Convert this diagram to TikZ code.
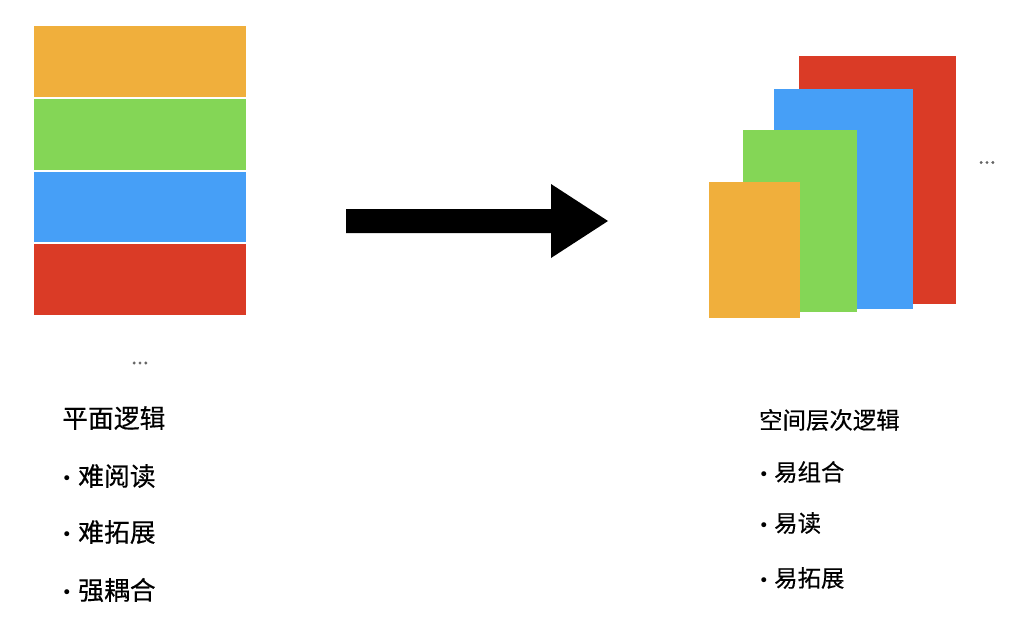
\documentclass[tikz,border=0pt]{standalone}
\usepackage{fontspec}
\setmainfont{Noto Sans CJK SC}[FakeBold=0.35,AutoFakeBold=0.35]
\newfontfamily\symfont{DejaVu Sans}
\definecolor{cOrange}{RGB}{240,175,60}
\definecolor{cGreen}{RGB}{132,214,86}
\definecolor{cBlue}{RGB}{70,159,247}
\definecolor{cRed}{RGB}{218,59,38}
\definecolor{cDots}{RGB}{100,100,100}
\begin{document}
\begin{tikzpicture}[x=1pt,y=-1pt,
  ltxt/.style={anchor=west, inner sep=0pt, font=\bfseries\fontsize{25.8}{30}\selectfont},
  rtxt/.style={anchor=west, inner sep=0pt, font=\bfseries\fontsize{23.4}{28}\selectfont},
  bul/.style={inner sep=0pt, font=\symfont\fontsize{17}{19}\selectfont},
  dots/.style={inner sep=0pt, text=cDots, font=\fontsize{21}{24}\selectfont}]
\useasboundingbox[fill=white] (0,0) rectangle (1022,624);
% left stack
\fill[cOrange] (34,26) rectangle (246,97);
\fill[cGreen]  (34,99) rectangle (246,170);
\fill[cBlue]   (34,172) rectangle (246,242);
\fill[cRed]    (34,244) rectangle (246,315);
\node[dots] (ldots) at (140,363) {...};
% arrow
\fill[black] (346,209) -- (551,209) -- (551,184) -- (608,221) -- (551,258) -- (551,233) -- (346,233) -- cycle;
% right stack
\fill[cRed]    (799,56) rectangle (956,304);
\fill[cBlue]   (774,89) rectangle (913,309);
\fill[cGreen]  (743,130) rectangle (857,312);
\fill[cOrange] (709,182) rectangle (800,318);
\node[dots] (rdots) at (987,162.5) {...};
% left text
\node[ltxt] (lt) at (62,418) {平面逻辑};
\node[bul] (lb1) at (67,480) {•};
\node[ltxt] (l1) at (78,476) {难阅读};
\node[bul] (lb2) at (67,536) {•};
\node[ltxt] (l2) at (78,532) {难拓展};
\node[bul] (lb3) at (67,594) {•};
\node[ltxt] (l3) at (78,590) {强耦合};
% right text
\node[rtxt] (rt) at (759,420) {空间层次逻辑};
\node[bul] (rb1) at (764,476) {•};
\node[rtxt] (r1) at (774,472) {易组合};
\node[bul] (rb2) at (764,527) {•};
\node[rtxt] (r2) at (774,523) {易读};
\node[bul] (rb3) at (764,582) {•};
\node[rtxt] (r3) at (774,578) {易拓展};
\end{tikzpicture}
\end{document}
